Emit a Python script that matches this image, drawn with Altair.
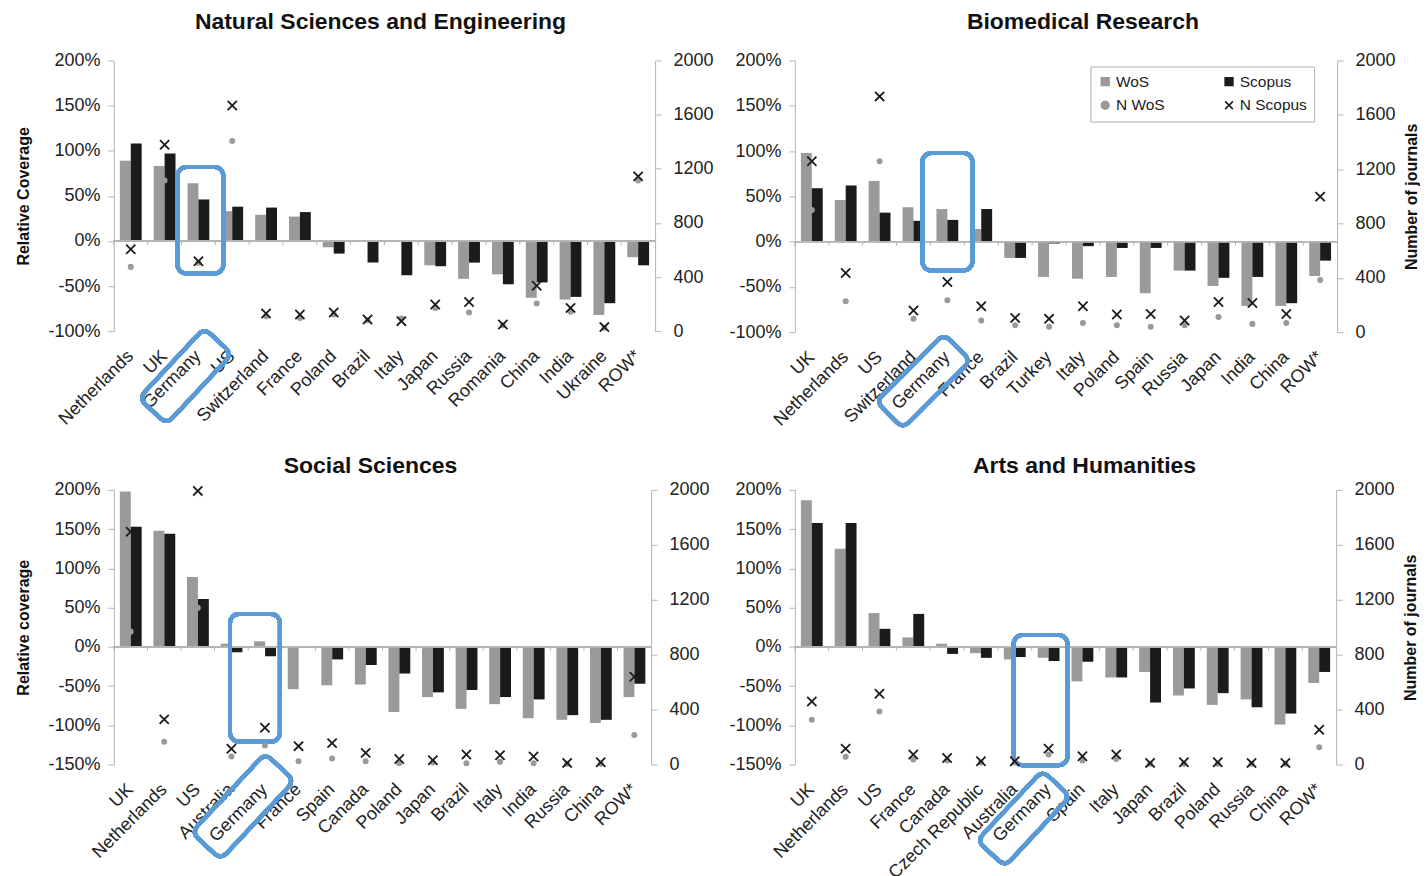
import math
import altair as alt
import pandas as pd

# ---------------- data ----------------
SERIES = ["WoS", "N WoS", "Scopus", "N Scopus"]

nse_countries = ["Netherlands", "UK", "Germany", "US", "Switzerland", "France", "Poland", "Brazil",
                 "Italy", "Japan", "Russia", "Romania", "China", "India", "Ukraine", "ROW*"]
nse_wos = [0.89, 0.83, 0.64, 0.33, 0.29, 0.27, -0.07, 0.01, -0.01, -0.27, -0.42, -0.37, -0.63, -0.65, -0.82, -0.18]
nse_scopus = [1.08, 0.97, 0.46, 0.38, 0.37, 0.32, -0.14, -0.24, -0.38, -0.28, -0.24, -0.48, -0.46, -0.62, -0.69, -0.27]
nse_n_wos = [475, 1114, 505, 1405, 110, 98, 123, 81, 93, 172, 138, 44, 204, 143, 25, 1114]
nse_n_scopus = [605, 1378, 517, 1668, 130, 123, 138, 86, 74, 197, 216, 49, 335, 172, 30, 1144]

bio_countries = ["UK", "Netherlands", "US", "Switzerland", "Germany", "France", "Brazil", "Turkey",
                 "Italy", "Poland", "Spain", "Russia", "Japan", "India", "China", "ROW*"]
bio_wos = [0.98, 0.46, 0.67, 0.38, 0.36, 0.14, -0.18, -0.39, -0.41, -0.39, -0.57, -0.32, -0.49, -0.71, -0.71, -0.38]
bio_scopus = [0.59, 0.62, 0.32, 0.23, 0.24, 0.36, -0.18, -0.02, -0.05, -0.07, -0.07, -0.32, -0.40, -0.39, -0.68, -0.21]
bio_n_wos = [900, 227, 1259, 98, 235, 86, 51, 39, 68, 51, 39, 51, 112, 61, 68, 384]
bio_n_scopus = [1259, 435, 1736, 159, 369, 191, 105, 98, 191, 130, 134, 86, 222, 215, 134, 998]

soc_countries = ["UK", "Netherlands", "US", "Australia", "Germany", "France", "Spain", "Canada",
                 "Poland", "Japan", "Brazil", "Italy", "India", "Russia", "China", "ROW*"]
soc_wos = [1.98, 1.48, 0.89, 0.04, 0.07, -0.54, -0.49, -0.48, -0.83, -0.64, -0.79, -0.73, -0.91, -0.93, -0.97, -0.64]
soc_scopus = [1.53, 1.44, 0.61, -0.07, -0.12, -0.01, -0.16, -0.23, -0.34, -0.58, -0.55, -0.64, -0.67, -0.87, -0.93, -0.47]
soc_n_wos = [968, 166, 1141, 59, 139, 24, 44, 24, 10, 15, 10, 20, 10, 5, 5, 215]
soc_n_scopus = [1695, 329, 1993, 115, 268, 134, 156, 85, 41, 32, 73, 68, 59, 12, 17, 639]

art_countries = ["UK", "Netherlands", "US", "France", "Canada", "Czech Republic", "Australia", "Germany",
                 "Spain", "Italy", "Japan", "Brazil", "Poland", "Russia", "China", "ROW*"]
art_wos = [1.87, 1.25, 0.43, 0.12, 0.04, -0.08, -0.16, -0.14, -0.44, -0.39, -0.32, -0.62, -0.74, -0.67, -0.99, -0.46]
art_scopus = [1.58, 1.58, 0.23, 0.42, -0.09, -0.14, -0.13, -0.18, -0.19, -0.39, -0.71, -0.53, -0.59, -0.77, -0.85, -0.32]
art_n_wos = [326, 56, 387, 36, 30, 15, 15, 73, 29, 41, 5, 5, 5, 5, 5, 126]
art_n_scopus = [459, 116, 515, 73, 48, 24, 24, 116, 60, 73, 12, 17, 17, 12, 12, 254]

# ---------------- styling ----------------
FONT = "Liberation Sans"
GREY = "#9a9a9a"
BLACK = "#1b1b1b"
BLUE = "#5b9bd5"
AXIS_GREY = "#b5b5b5"
XPATH = "M-1,-1L1,1M-1,1L1,-1"


def rrect_path(length, width, radius, ang_deg, cx, cy, unit):
    a = math.radians(ang_deg)
    ux, uy = math.cos(a), math.sin(a)
    vx, vy = -uy, ux
    hl, hw = length / 2, width / 2

    def P(s, t):
        return "%.4f,%.4f" % ((cx + s * ux + t * vx) / unit, (cy + s * uy + t * vy) / unit)

    r = radius
    return ("M" + P(-hl + r, -hw) + "L" + P(hl - r, -hw) + "Q" + P(hl, -hw) + " " + P(hl, -hw + r)
            + "L" + P(hl, hw - r) + "Q" + P(hl, hw) + " " + P(hl - r, hw)
            + "L" + P(-hl + r, hw) + "Q" + P(-hl, hw) + " " + P(-hl, hw - r)
            + "L" + P(-hl, -hw + r) + "Q" + P(-hl, -hw) + " " + P(-hl + r, -hw) + "Z")


def panel(title, title_dx, title_offset, countries, wos, scopus, nwos, nscopus, ydom, yticks,
          ltitle, rtitle, width, height, box, lbox, show_legend):
    bar_df = pd.DataFrame({
        "country": countries * 2,
        "series": ["WoS"] * len(countries) + ["Scopus"] * len(countries),
        "value": list(wos) + list(scopus),
    })
    pt_df = pd.DataFrame({
        "country": countries * 2,
        "series": ["N WoS"] * len(countries) + ["N Scopus"] * len(countries),
        "n": list(nwos) + list(nscopus),
    })
    sep_df = pd.DataFrame({"country": countries})

    xscale = alt.Scale(domain=countries, paddingInner=0, paddingOuter=0)
    xaxis = alt.Axis(title=None, labelAngle=-45, domain=False, ticks=False, labelFontSize=18,
                     labelFont=FONT, labelColor="#222", labelPadding=22, labelAlign="right",
                     labelBaseline="middle", labelOverlap=False, labelBound=False)
    yscale = alt.Scale(domain=ydom, nice=False, zero=False)
    yaxis = alt.Axis(values=yticks, title=ltitle,
                     labelExpr="(datum.value < 0 ? '-' : '') + round(abs(datum.value) * 100) + '%'",
                     labelFontSize=18, labelColor="#222", labelPadding=8, tickSize=6,
                     labelOverlap=False, labelSeparation=0, labelBound=False,
                     domainColor=AXIS_GREY, tickColor=AXIS_GREY, grid=False,
                     titleFontSize=16, titleFontWeight="bold", titleColor="#111", titlePadding=16)

    if show_legend:
        legend = alt.Legend(title=None, orient="none", legendX=296, legendY=6, columns=2,
                            columnPadding=56, rowPadding=7, padding=7, strokeColor="#b0b0b0",
                            fillColor="white", labelFontSize=15.5, labelFont=FONT, labelColor="#222",
                            symbolStrokeWidth=1.6, symbolSize=60, labelOffset=3)
    else:
        legend = None

    fill_scale = alt.Scale(domain=SERIES, range=[GREY, GREY, BLACK, BLACK])
    stroke_scale = alt.Scale(domain=SERIES, range=[GREY, GREY, BLACK, BLACK])
    shape_scale = alt.Scale(domain=SERIES, range=["square", "circle", "square", XPATH])

    bars = alt.Chart(bar_df).mark_bar().encode(
        x=alt.X("country:N", sort=countries, scale=xscale, axis=xaxis),
        xOffset=alt.XOffset("series:N", sort=["WoS", "Scopus"],
                            scale=alt.Scale(domain=["WoS", "Scopus"], paddingOuter=0.55, paddingInner=0)),
        y=alt.Y("value:Q", scale=yscale, axis=yaxis),
        fill=alt.Fill("series:N", scale=fill_scale, legend=legend),
    )
    zero = alt.Chart(sep_df).mark_rule(color=AXIS_GREY, strokeWidth=1).encode(
        y=alt.YDatum(0, scale=yscale, axis=yaxis))
    tick_len = (ydom[1] - ydom[0]) * 4.0 / height
    seps = alt.Chart(sep_df).mark_rule(color=AXIS_GREY, strokeWidth=1).encode(
        x=alt.X("country:N", sort=countries, scale=xscale, axis=xaxis, bandPosition=0),
        y=alt.YDatum(0, scale=yscale, axis=yaxis), y2=alt.datum(-tick_len),
    )
    btop, bbot, bwidth, bdx = box
    bar_box = alt.Chart(sep_df).mark_bar(
        width=bwidth, xOffset=bdx, fillOpacity=0, stroke=BLUE, strokeWidth=4, cornerRadius=9, clip=False
    ).encode(x=alt.datum("Germany"), y=alt.YDatum(btop, scale=yscale, axis=yaxis), y2=alt.datum(bbot))

    ldx, ldy, llen, lwid, lang = lbox
    unit = 60.0
    path = rrect_path(llen, lwid, 9, lang, ldx, 0, unit)
    label_box = alt.Chart(sep_df).mark_point(
        shape=path, size=(2 * unit) ** 2, filled=False, stroke=BLUE, strokeWidth=4, opacity=1, clip=False
    ).encode(x=alt.datum("Germany"), y=alt.value(height + ldy))

    left = alt.layer(bars, zero, seps, bar_box, label_box)

    raxis = alt.Axis(values=[0, 400, 800, 1200, 1600, 2000], format="d", orient="right",
                     title=rtitle, titleAngle=270, titleBaseline="top", labelFontSize=18, labelColor="#222",
                     labelPadding=12, labelOverlap=False,
                     tickSize=6, domainColor=AXIS_GREY, tickColor=AXIS_GREY, grid=False,
                     titleFontSize=16, titleFontWeight="bold", titleColor="#111", titlePadding=8)
    points = alt.Chart(pt_df).mark_point(filled=True, opacity=1, strokeWidth=1.8).encode(
        x=alt.X("country:N", sort=countries, scale=xscale, axis=xaxis),
        y=alt.Y("n:Q", scale=alt.Scale(domain=[0, 2000], nice=False), axis=raxis),
        fill=alt.Fill("series:N", scale=fill_scale, legend=legend),
        stroke=alt.Stroke("series:N", scale=stroke_scale, legend=legend),
        shape=alt.Shape("series:N", scale=shape_scale, legend=legend),
        size=alt.condition(alt.datum.series == "N WoS", alt.value(18), alt.value(85)),
    )

    return alt.layer(left, points).resolve_scale(y="independent").properties(
        width=width, height=height,
        title=alt.TitleParams(title, anchor="middle", dx=title_dx, fontSize=23, font=FONT,
                              fontWeight="bold", color="#111", offset=title_offset),
    )


p1 = panel("Natural Sciences and Engineering", -4, 18, nse_countries, nse_wos, nse_scopus, nse_n_wos, nse_n_scopus,
           [-1.0, 2.0], [-1.0, -0.5, 0, 0.5, 1.0, 1.5, 2.0], "Relative Coverage", None, 542, 271,
           (0.82, -0.36, 46, 2), (-13, 45, 96, 38, -47), False)
p2 = panel("Biomedical Research", 17, 18, bio_countries, bio_wos, bio_scopus, bio_n_wos, bio_n_scopus,
           [-1.0, 2.0], [-1.0, -0.5, 0, 0.5, 1.0, 1.5, 2.0], None, "Number of journals", 543, 272,
           (0.98, -0.32, 50, 0), (-24, 49, 96, 38, -45), True)
p3 = panel("Social Sciences", -12, 3, soc_countries, soc_wos, soc_scopus, soc_n_wos, soc_n_scopus,
           [-1.5, 2.0], [-1.5, -1.0, -0.5, 0, 0.5, 1.0, 1.5, 2.0], "Relative coverage", None, 538, 275,
           (0.42, -1.21, 50, -10), (-22, 42, 108, 40, -47), False)
p4 = panel("Arts and Humanities", 19, 3, art_countries, art_wos, art_scopus, art_n_wos, art_n_scopus,
           [-1.5, 2.0], [-1.5, -1.0, -0.5, 0, 0.5, 1.0, 1.5, 2.0], None, "Number of journals", 542, 275,
           (0.15, -1.51, 54, -8), (-25, 54, 96, 38, -47), False)

IND = dict(fill="independent", stroke="independent", shape="independent")

row1 = alt.hconcat(p1, p2, spacing=14).resolve_scale(**IND).resolve_legend(**IND)
row2 = alt.hconcat(p3, p4, spacing=18).resolve_scale(**IND).resolve_legend(**IND)

chart = alt.vconcat(row1, row2, spacing=21).resolve_scale(**IND).resolve_legend(**IND).properties(
    padding={"left": 7, "top": 2, "right": 0, "bottom": 0}, background="white"
).configure_view(stroke=None).configure_axis(
    labelFont=FONT, titleFont=FONT
).configure_title(font=FONT)

chart.save("out.html", embed_options={"renderer": "svg", "actions": False})
